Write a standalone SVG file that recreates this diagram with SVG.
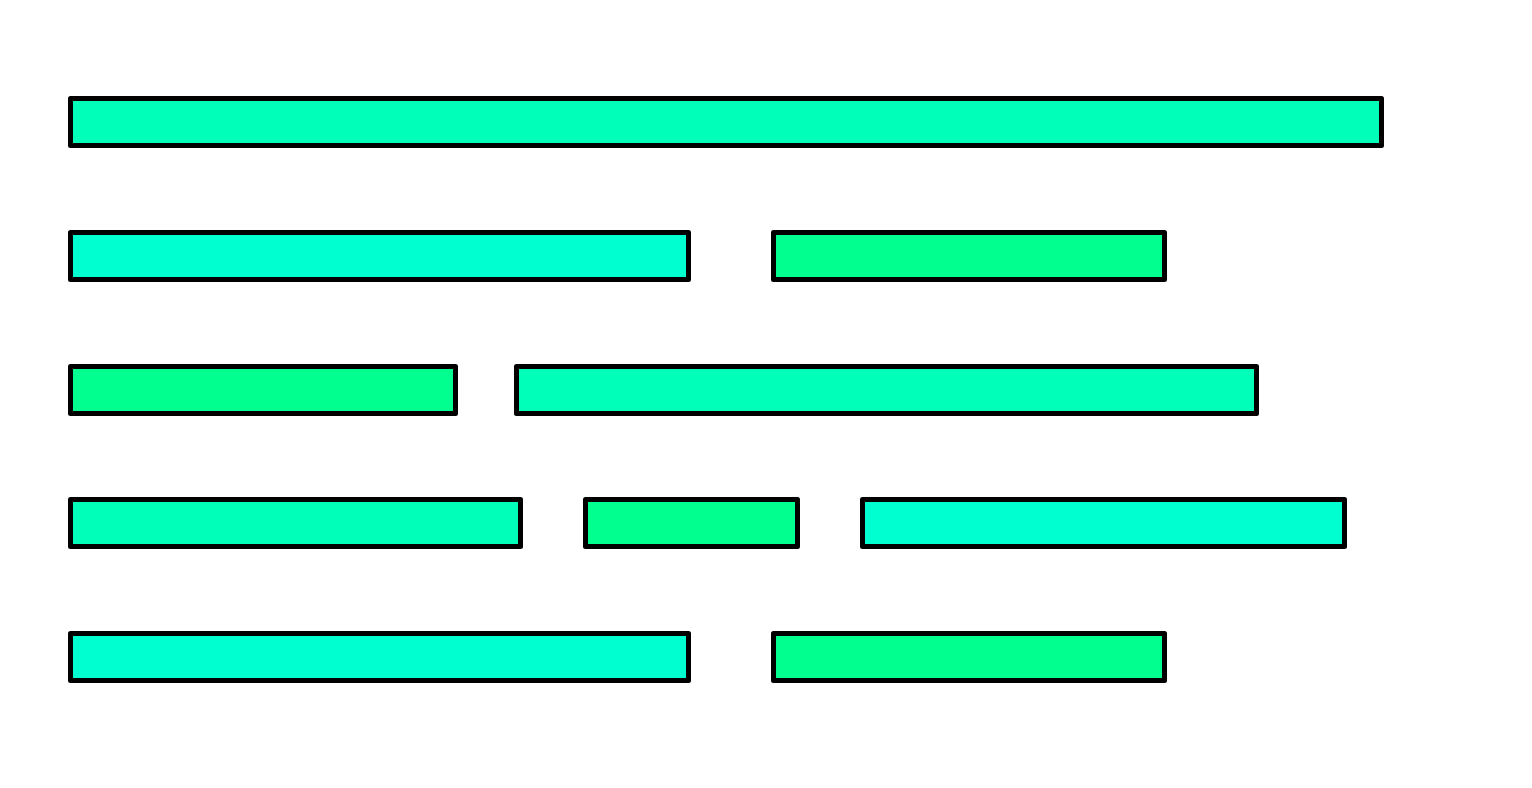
<svg xmlns="http://www.w3.org/2000/svg" width="1532" height="788" viewBox="0 0 1532 788">
<style>
.bar{stroke:#000;stroke-width:5;stroke-linejoin:round}
.a{fill:#00FFB9}
.b{fill:#00FFD0}
.c{fill:#00FF8E}
</style>
<rect width="1532" height="788" fill="#fff"/>
<g id="r1a"><rect class="bar a" x="70.5" y="98.5" width="1311" height="47"/></g>
<g id="r2a"><rect class="bar b" x="70.5" y="232.5" width="618" height="47"/></g>
<g id="r2b"><rect class="bar c" x="773.5" y="232.5" width="391" height="47"/></g>
<g id="r3a"><rect class="bar c" x="70.5" y="366.5" width="385" height="47"/></g>
<g id="r3b"><rect class="bar a" x="516.5" y="366.5" width="740" height="47"/></g>
<g id="r4a"><rect class="bar a" x="70.5" y="499.5" width="450" height="47"/></g>
<g id="r4b"><rect class="bar c" x="585.5" y="499.5" width="212" height="47"/></g>
<g id="r4c"><rect class="bar b" x="862.5" y="499.5" width="482" height="47"/></g>
<g id="r5a"><rect class="bar b" x="70.5" y="633.5" width="618" height="47"/></g>
<g id="r5b"><rect class="bar c" x="773.5" y="633.5" width="391" height="47"/></g>
</svg>
